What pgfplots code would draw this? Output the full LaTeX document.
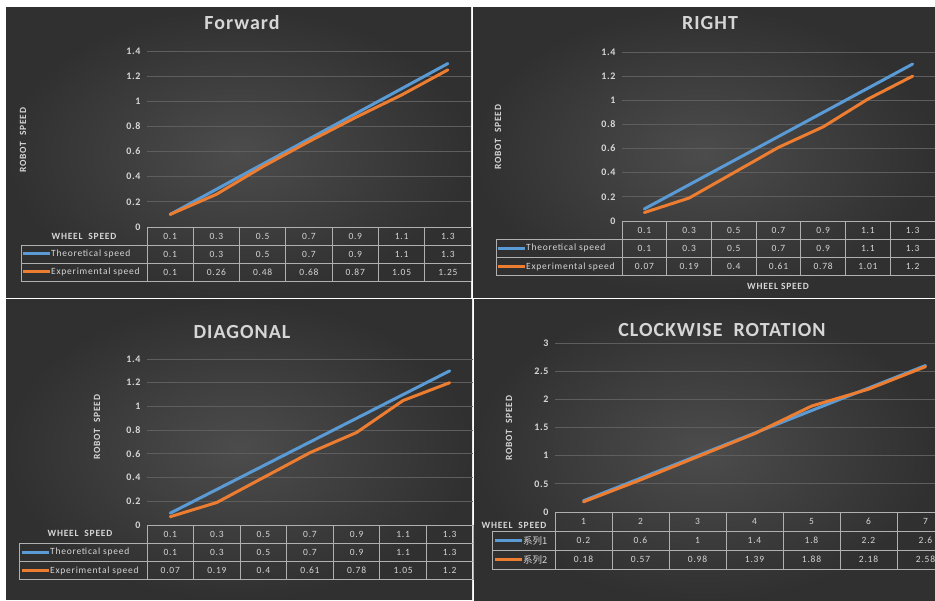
\documentclass[border=0pt]{standalone}
\usepackage{pgfplots}
\pgfplotsset{compat=1.18}
\usepackage{fontspec}
\setmainfont{Carlito}
\newfontfamily\cjk{Noto Sans CJK SC}
\definecolor{bgl}{HTML}{4C4C4C}
\definecolor{bgd}{HTML}{303030}
\definecolor{txtc}{HTML}{D6D6D6}
\definecolor{grd}{HTML}{5E5E5E}
\definecolor{tblc}{HTML}{B0B0B0}
\definecolor{sblue}{HTML}{5B9BD5}
\definecolor{sorange}{HTML}{ED7D31}
\newcommand\tf{\fontsize{9.5}{10}\selectfont\addfontfeature{LetterSpace=8}}
\newcommand\tkf{\fontsize{10}{10}\selectfont\bfseries\addfontfeature{LetterSpace=6}}
\newcommand\ttl{\fontsize{20}{22}\selectfont\bfseries\addfontfeature{LetterSpace=5}}
\newcommand\lbl{\fontsize{9.5}{10}\selectfont\bfseries\addfontfeature{LetterSpace=8}}
\pgfplotsset{panel/.style={
  scale only axis, anchor=south west,
  xmin=-0.5, xmax=6.5, ymin=0,
  axis lines*=left, axis line style={draw=none},
  xtick=\empty,
  major tick length=0pt, tick style={draw=none},
  ymajorgrids, grid style={grd, line width=0.8pt},
  yticklabel style={font=\tkf, text=txtc, xshift=-3pt},
  /pgf/number format/assume math mode=true,
  every axis plot/.append style={line width=3pt, line cap=round, line join=round},
  clip=false,
}}
% #1 x0, #2 colw, #3 xend, #4 xleft, #5 ytop (px from top), #6 rowh, #7 header, #8 row2, #9 row3
\newcommand\tbl[9]{%
  \pgfmathsetmacro\yT{601-#5}%
  \draw[tblc, line width=0.8pt] (#1,\yT) -- (#3,\yT);
  \foreach \r in {1,2,3} \draw[tblc,line width=0.8pt] (#4,\yT-\r*#6) -- (#3,\yT-\r*#6);
  \foreach \k in {0,...,7} \draw[tblc,line width=0.8pt] (#1+\k*#2,\yT) -- (#1+\k*#2,\yT-3*#6);
  \draw[tblc,line width=0.8pt] (#4,\yT-#6) -- (#4,\yT-3*#6);
  \foreach \v [count=\i from 0] in {#7} \node[text=txtc,font=\tf] at (#1+\i*#2+0.5*#2,\yT-0.5*#6) {\v};
  \foreach \v [count=\i from 0] in {#8} \node[text=txtc,font=\tf] at (#1+\i*#2+0.5*#2,\yT-1.5*#6) {\v};
  \foreach \v [count=\i from 0] in {#9} \node[text=txtc,font=\tf] at (#1+\i*#2+0.5*#2,\yT-2.5*#6) {\v};
}
\begin{document}
\begin{tikzpicture}
\path[use as bounding box] (0pt,0pt) rectangle (935pt,601pt);
\begin{scope}[x=1pt,y=1pt]
\fill[white] (0,0) rectangle (935,601);
\shade[inner color=bgl, outer color=bgd] (6,303) rectangle (471,593);
\shade[inner color=bgl, outer color=bgd] (473,303) rectangle (935,593);
\shade[inner color=bgl, outer color=bgd] (6,1) rectangle (472,301);
\shade[inner color=bgl, outer color=bgd] (474,0) rectangle (935,301);
\end{scope}

% Forward
\begin{axis}[panel, at={(147pt,374pt)}, width=324pt, height=176pt, ymax=1.4, ytick distance=0.2]
\addplot[sblue] coordinates {(0,0.1)(1,0.3)(2,0.5)(3,0.7)(4,0.9)(5,1.1)(6,1.3)};
\addplot[sorange] coordinates {(0,0.1)(1,0.26)(2,0.48)(3,0.68)(4,0.87)(5,1.05)(6,1.25)};
\end{axis}
% Right
\begin{axis}[panel, at={(622pt,380pt)}, width=313pt, height=169pt, ymax=1.4, ytick distance=0.2]
\addplot[sblue] coordinates {(0,0.1)(1,0.3)(2,0.5)(3,0.7)(4,0.9)(5,1.1)(6,1.3)};
\addplot[sorange] coordinates {(0,0.07)(1,0.19)(2,0.4)(3,0.61)(4,0.78)(5,1.01)(6,1.2)};
\end{axis}
% Diagonal
\begin{axis}[panel, at={(147pt,76pt)}, width=326pt, height=166pt, ymax=1.4, ytick distance=0.2]
\addplot[sblue] coordinates {(0,0.1)(1,0.3)(2,0.5)(3,0.7)(4,0.9)(5,1.1)(6,1.3)};
\addplot[sorange] coordinates {(0,0.07)(1,0.19)(2,0.4)(3,0.61)(4,0.78)(5,1.05)(6,1.2)};
\end{axis}
% Clockwise rotation
\begin{axis}[panel, at={(555pt,89pt)}, width=380pt, height=169pt, xmax=6.1667, ymax=3, ytick distance=0.5]
\addplot[sblue] coordinates {(0,0.2)(1,0.6)(2,1)(3,1.4)(4,1.8)(5,2.2)(6,2.6)};
\addplot[sorange] coordinates {(0,0.18)(1,0.57)(2,0.98)(3,1.39)(4,1.88)(5,2.18)(6,2.58)};
\end{axis}

\begin{scope}[x=1pt,y=1pt]
\clip (0,0) rectangle (935,601);
% titles
\node[text=txtc,font=\ttl] at (242,578) {Forward};
\node[text=txtc,font=\ttl] at (710,578) {RIGHT};
\node[text=txtc,font=\ttl] at (242,269) {DIAGONAL};
\node[text=txtc,font=\ttl] at (722,271) {CLOCKWISE\ \ ROTATION};
% y labels
\node[text=txtc,font=\lbl,rotate=90] at (23,461) {ROBOT\ \ SPEED};
\node[text=txtc,font=\lbl,rotate=90] at (498,464) {ROBOT\ \ SPEED};
\node[text=txtc,font=\lbl,rotate=90] at (97,174) {ROBOT\ \ SPEED};
\node[text=txtc,font=\lbl,rotate=90] at (509,173) {ROBOT\ \ SPEED};
% x labels
\node[text=txtc,font=\lbl] at (84,365) {WHEEL\ \ SPEED};
\node[text=txtc,font=\lbl] at (778,315) {WHEEL SPEED};
\node[text=txtc,font=\lbl] at (80,68) {WHEEL\ \ SPEED};
\node[text=txtc,font=\lbl] at (514,76) {WHEEL\ \ SPEED};
% tables
\tbl{147}{46.286}{471}{21}{227}{18}{0.1,0.3,0.5,0.7,0.9,1.1,1.3}{0.1,0.3,0.5,0.7,0.9,1.1,1.3}{0.1,0.26,0.48,0.68,0.87,1.05,1.25}
\tbl{622}{44.714}{935}{496}{221}{18.3}{0.1,0.3,0.5,0.7,0.9,1.1,1.3}{0.1,0.3,0.5,0.7,0.9,1.1,1.3}{0.07,0.19,0.4,0.61,0.78,1.01,1.2}
\tbl{147}{46.571}{473}{19}{525}{18.3}{0.1,0.3,0.5,0.7,0.9,1.1,1.3}{0.1,0.3,0.5,0.7,0.9,1.1,1.3}{0.07,0.19,0.4,0.61,0.78,1.05,1.2}
\tbl{555}{57}{935}{492}{512}{19}{1,2,3,4,5,6,7}{0.2,0.6,1,1.4,1.8,2.2,2.6}{0.18,0.57,0.98,1.39,1.88,2.18,2.58}
% legend keys
\draw[sblue,line width=3pt] (23,347) -- (50,347); \node[anchor=west,inner sep=0pt,text=txtc,font=\tf] at (51,347) {Theoretical speed};
\draw[sorange,line width=3pt] (23,329) -- (50,329); \node[anchor=west,inner sep=0pt,text=txtc,font=\tf] at (51,329) {Experimental speed};
\draw[sblue,line width=3pt] (498,352.55) -- (525,352.55); \node[anchor=west,inner sep=0pt,text=txtc,font=\tf] at (526,352.55) {Theoretical speed};
\draw[sorange,line width=3pt] (498,334.25) -- (525,334.25); \node[anchor=west,inner sep=0pt,text=txtc,font=\tf] at (526,334.25) {Experimental speed};
\draw[sblue,line width=3pt] (22,48.55) -- (49,48.55); \node[anchor=west,inner sep=0pt,text=txtc,font=\tf] at (50,48.55) {Theoretical speed};
\draw[sorange,line width=3pt] (22,30.25) -- (49,30.25); \node[anchor=west,inner sep=0pt,text=txtc,font=\tf] at (50,30.25) {Experimental speed};
\draw[sblue,line width=3pt] (495,60.5) -- (522,60.5); \node[anchor=west,inner sep=0pt,text=txtc,font=\tf] at (523,60.5) {\cjk 系列1};
\draw[sorange,line width=3pt] (495,41.5) -- (522,41.5); \node[anchor=west,inner sep=0pt,text=txtc,font=\tf] at (523,41.5) {\cjk 系列2};
\end{scope}
\end{tikzpicture}
\end{document}
